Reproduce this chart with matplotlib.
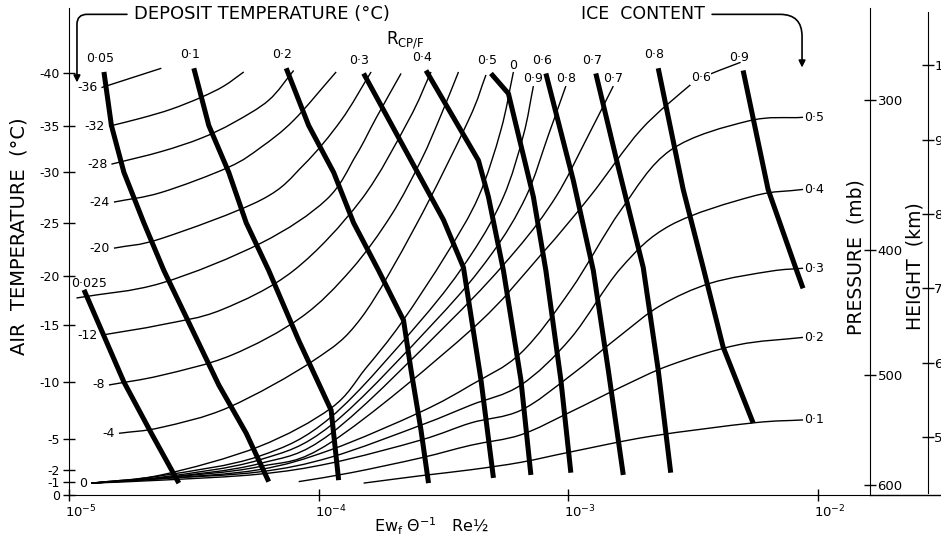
import numpy as np
import matplotlib.pyplot as plt
from matplotlib.path import Path
from matplotlib.patches import PathPatch
from matplotlib.transforms import ScaledTranslation

plt.rcParams['font.family'] = ['DejaVu Sans']

# x: log10(Ew_f / Theta * Re^1/2), y: height (km)

# R_CP/F lines (thick), listed from the top end downwards
r_labels = ['0·025', '0·05', '0·1', '0·2', '0·3', '0·4', '0·5', '0·6', '0·7', '0·8', '0·9']
r_lgx = [
    [-4.94, -4.78, -4.67, -4.56],
    [-4.86, -4.83, -4.78, -4.70, -4.62, -4.51, -4.40, -4.29, -4.20],
    [-4.50, -4.44, -4.36, -4.29, -4.20, -4.08, -3.95, -3.92],
    [-4.13, -4.04, -3.94, -3.86, -3.76, -3.66, -3.63, -3.59, -3.56],
    [-3.82, -3.50, -3.42, -3.35, -3.30],
    [-3.57, -3.36, -3.32, -3.26, -3.19, -3.15],
    [-3.31, -3.24, -3.14, -3.09, -3.03, -2.99],
    [-3.09, -2.98, -2.90, -2.84, -2.78],
    [-2.89, -2.80, -2.70, -2.64, -2.59],
    [-2.64, -2.54, -2.46, -2.38, -2.26],
    [-2.30, -2.20, -2.09, -2.06],
]
r_hgt = [
    [6.98, 5.74, 5.05, 4.38],
    [9.91, 9.19, 8.56, 7.88, 7.24, 6.47, 5.70, 5.05, 4.40],
    [9.96, 9.19, 8.56, 7.88, 7.24, 6.30, 5.36, 4.42],
    [9.96, 9.19, 8.56, 7.88, 7.24, 6.57, 5.90, 5.09, 4.38],
    [9.89, 7.92, 7.28, 5.77, 4.45],
    [9.93, 8.72, 8.23, 7.24, 5.77, 4.49],
    [9.89, 9.62, 8.23, 7.24, 5.77, 4.52],
    [9.89, 8.45, 7.24, 5.90, 4.49],
    [9.89, 8.63, 7.28, 5.90, 4.52],
    [9.96, 8.33, 7.28, 6.21, 5.19],
    [9.93, 8.33, 7.28, 7.00],
]

# deposit temperature lines (thin), from the left end upwards
dep_labels = ['-36', '-32', '-28', '-24', '-20', '', '-12', '-8', '-4', '0']
dep_lgx = [
    [-4.87, -4.75, -4.63],
    [-4.84, -4.71, -4.59, -4.47, -4.38, -4.30],
    [-4.83, -4.63, -4.47, -4.34, -4.20, -4.10],
    [-4.82, -4.63, -4.36, -4.23, -4.10, -3.93],
    [-4.82, -4.63, -4.23, -4.06, -3.91, -3.79],
    [-4.97, -4.63, -4.23, -3.97, -3.85, -3.77, -3.67],
    [-4.87, -4.63, -4.39, -4.10, -3.83, -3.64, -3.55],
    [-4.84, -4.63, -4.35, -4.07, -3.87, -3.71, -3.59, -3.51, -3.44],
    [-4.80, -4.63, -4.36, -4.02, -3.83, -3.61, -3.40, -3.33],
    [-4.91, -4.63, -4.24, -3.95, -3.81, -3.67, -3.49, -3.36, -3.27, -3.22],
]
dep_hgt = [
    [9.70, 9.83, 9.96],
    [9.18, 9.29, 9.41, 9.57, 9.72, 9.91],
    [8.67, 8.84, 9.02, 9.23, 9.53, 9.93],
    [8.16, 8.29, 8.63, 8.90, 9.26, 9.91],
    [7.54, 7.67, 8.19, 8.66, 9.26, 9.91],
    [6.87, 7.07, 7.61, 8.19, 8.79, 9.29, 9.89],
    [6.37, 6.51, 6.71, 7.24, 8.19, 9.26, 9.91],
    [5.70, 5.83, 6.10, 6.61, 7.25, 7.98, 8.72, 9.33, 9.91],
    [5.05, 5.13, 5.40, 6.03, 6.60, 7.85, 9.26, 9.87],
    [4.38, 4.49, 4.87, 5.39, 5.93, 6.53, 7.45, 8.23, 9.13, 9.91],
]

# ice content lines (thin), from the lower left end
ice_labels = ['0·9', '0·8', '0·7', '0·6', '0·5', '0·4', '0·3', '0·2', '0·1']
ice_lgx = [
    [-4.91, -4.63, -4.24, -3.95, -3.59, -3.39, -3.26, -3.18, -3.14],
    [-4.91, -4.63, -4.24, -3.95, -3.53, -3.31, -3.17, -3.08, -3.01],
    [-4.91, -4.63, -4.24, -3.95, -3.47, -3.21, -3.05, -2.93, -2.82],
    [-4.91, -4.63, -4.24, -3.95, -3.39, -3.11, -2.91, -2.71, -2.51, -2.47, -2.31],
    [-4.91, -4.63, -4.24, -3.95, -3.59, -3.39, -3.19, -2.99, -2.79, -2.59, -2.28, -2.06],
    [-4.91, -4.63, -4.24, -3.95, -3.59, -3.39, -3.19, -2.99, -2.79, -2.59, -2.26, -2.06],
    [-4.91, -4.63, -4.24, -3.95, -3.59, -3.39, -3.19, -2.99, -2.79, -2.63, -2.43, -2.19, -2.06],
    [-4.08, -3.87, -3.59, -3.39, -3.19, -2.99, -2.79, -2.59, -2.32, -2.06],
    [-3.82, -3.59, -3.39, -3.19, -2.99, -2.67, -2.26, -2.06],
]
ice_hgt = [
    [4.38, 4.48, 4.74, 5.27, 6.57, 7.45, 8.23, 9.06, 9.72],
    [4.38, 4.46, 4.69, 5.16, 6.57, 7.45, 8.23, 9.06, 9.72],
    [4.38, 4.45, 4.64, 5.05, 6.57, 7.51, 8.23, 8.99, 9.72],
    [4.38, 4.45, 4.60, 4.93, 6.44, 7.45, 8.25, 9.13, 9.74, 9.83, 10.04],
    [4.38, 4.44, 4.56, 4.83, 5.34, 5.70, 6.13, 6.98, 8.05, 8.86, 9.25, 9.30],
    [4.38, 4.44, 4.53, 4.73, 5.16, 5.43, 5.70, 6.33, 7.27, 7.85, 8.24, 8.33],
    [4.38, 4.42, 4.50, 4.65, 4.96, 5.19, 5.36, 5.83, 6.37, 6.77, 7.07, 7.23, 7.27],
    [4.40, 4.52, 4.72, 4.89, 5.03, 5.34, 5.67, 5.97, 6.24, 6.34],
    [4.38, 4.48, 4.56, 4.66, 4.80, 5.01, 5.19, 5.23],
]

# scales
t_labels = ['-40', '-35', '-30', '-25', '-20', '-15', '-10', '-5', '-2', '-1', '0']
t_hgt = [9.90, 9.19, 8.57, 7.88, 7.16, 6.51, 5.74, 4.98, 4.56, 4.39, 4.22]
p_labels = ['300', '400', '500', '600']
p_hgt = [9.53, 7.51, 5.83, 4.35]
km_ticks = [5, 6, 7, 8, 9, 10]
x_ticks = [1e-5, 1e-4, 1e-3, 1e-2]
x_labels = ['$10^{-5}$', '$10^{-4}$', '$10^{-3}$', '$10^{-2}$']


def smooth_line(ax, lgx, hgt, **kw):
    # smooth curve through the read points (Catmull-Rom as cubic Bezier)
    k = 3.36  # one decade is about 3.36 km on the page
    p = np.column_stack([np.array(lgx) * k, np.array(hgt, float)])
    ext = np.vstack([2 * p[0] - p[1], p, 2 * p[-1] - p[-2]])
    verts = [p[0]]
    codes = [Path.MOVETO]
    for i in range(len(p) - 1):
        c1 = ext[i + 1] + (ext[i + 2] - ext[i]) / 6
        c2 = ext[i + 2] - (ext[i + 3] - ext[i + 1]) / 6
        verts += [c1, c2, p[i + 1]]
        codes += [Path.CURVE4] * 3
    verts = np.array(verts)
    verts[:, 0] = 10 ** (verts[:, 0] / k)
    ax.add_patch(PathPatch(Path(verts, codes), fill=False, **kw))


fig = plt.figure(figsize=(9.41, 5.39), dpi=100)
ax = fig.add_axes([0.0733, 0.0816, 0.8512, 0.9035])
ax.set_xscale('log')
ax.set_xlim(1e-5, 10 ** -1.792)
ax.set_ylim(4.22, 10.77)

# thin lines
for lab, xs, hs in zip(dep_labels, dep_lgx, dep_hgt):
    smooth_line(ax, xs, hs, edgecolor='k', lw=1.0, zorder=2)
    if lab:
        ax.annotate(lab, (10 ** xs[0], hs[0]), xytext=(-3, 0), textcoords='offset points',
                    ha='right', va='center', fontsize=9)

for lab, xs, hs in zip(ice_labels, ice_lgx, ice_hgt):
    smooth_line(ax, xs, hs, edgecolor='k', lw=1.0, zorder=2)
    if hs[-1] < 9.5:
        ax.annotate(lab, (10 ** xs[-1], hs[-1]), xytext=(1, 0), textcoords='offset points',
                    ha='left', va='center', fontsize=9)
    elif lab == '0·6':
        ax.text(10 ** xs[-2], hs[-2], lab, ha='center', va='center', fontsize=9, zorder=4,
                bbox=dict(facecolor='white', edgecolor='none', pad=0.5))
    else:
        ax.annotate(lab, (10 ** xs[-1], hs[-1]), xytext=(0, 1), textcoords='offset points',
                    ha='center', va='bottom', fontsize=9)

# thick lines
for lab, xs, hs in zip(r_labels, r_lgx, r_hgt):
    ax.plot(10 ** np.array(xs), hs, color='k', lw=3.6, solid_capstyle='butt', zorder=3)
    off = (4, 0) if lab == '0·025' else (-3, 5)
    ax.annotate(lab, (10 ** xs[0], hs[0]), xytext=off, textcoords='offset points',
                ha='center', va='bottom', fontsize=9)

ax.annotate('0', (10 ** dep_lgx[-1][-1], dep_hgt[-1][-1]), xytext=(0, 0), textcoords='offset points',
            ha='center', va='bottom', fontsize=9)
ax.text(10 ** -3.652, 10.34, r'R$_{\mathregular{CP/F}}$', fontsize=12, ha='center', va='center')

ax.annotate('DEPOSIT TEMPERATURE (°C)', xy=(10 ** -4.968, 9.77), xytext=(10 ** -4.74, 10.685),
            ha='left', va='center', fontsize=13,
            arrowprops=dict(arrowstyle='-|>', color='k', lw=1.2, mutation_scale=10,
                            shrinkA=3, shrinkB=0,
                            connectionstyle='angle,angleA=0,angleB=90,rad=10'))
ax.annotate('ICE  CONTENT', xy=(10 ** -2.064, 9.97), xytext=(10 ** -2.452, 10.685),
            ha='right', va='center', fontsize=12.5,
            arrowprops=dict(arrowstyle='-|>', color='k', lw=1.2, mutation_scale=10,
                            shrinkA=3, shrinkB=0,
                            connectionstyle='angle,angleA=0,angleB=90,rad=22'))

# axes
ax.spines['top'].set_visible(False)
ax.spines['right'].set_visible(False)
ax.set_yticks(t_hgt, t_labels)
ax.set_xticks(x_ticks, x_labels)
ax.minorticks_off()
ax.tick_params(axis='y', direction='inout', length=9, width=1, labelsize=9, pad=2)
ax.tick_params(axis='x', direction='inout', length=8, width=1, labelsize=9.5, pad=2)
shift = ScaledTranslation(-0.04, 0, fig.dpi_scale_trans)
for t in ax.get_xticklabels():
    t.set_ha('left')
    t.set_transform(t.get_transform() + shift)
ax.plot([1, 1.09], [0, 0], transform=ax.transAxes, clip_on=False, color='k', lw=1)

ax.set_xlabel('Ew$_{\\mathregular{f}}$ $\\Theta^{-1}$   Re½', fontsize=11.5, va='center')
ax.xaxis.set_label_coords(0.453, -0.064)
ax.text(-0.063, 0.532, 'AIR  TEMPERATURE  (°C)', transform=ax.transAxes, rotation=90,
        ha='center', va='center', fontsize=14)

axp = ax.twinx()
axp.set_ylim(ax.get_ylim())
for s in ['left', 'top', 'bottom']:
    axp.spines[s].set_visible(False)
axp.set_yticks(p_hgt, p_labels)
axp.tick_params(axis='y', direction='inout', length=9, width=1, labelsize=9.5, pad=1)
ax.text(0.9825, 0.489, 'PRESSURE  (mb)', transform=ax.transAxes, rotation=90,
        ha='center', va='center', fontsize=13.5)

axh = ax.twinx()
axh.set_ylim(ax.get_ylim())
for s in ['left', 'top', 'bottom']:
    axh.spines[s].set_visible(False)
axh.spines['right'].set_position(('axes', 1.0724))
axh.spines['right'].set_bounds(4.25, 10.72)
axh.set_yticks(km_ticks, [str(k) for k in km_ticks])
axh.tick_params(axis='y', direction='inout', length=9, width=1, labelsize=9.5, pad=0)
ax.text(1.0562, 0.470, 'HEIGHT  (km)', transform=ax.transAxes, rotation=90,
        ha='center', va='center', fontsize=13.5)

fig.savefig('out.png', dpi=100, facecolor='white')
